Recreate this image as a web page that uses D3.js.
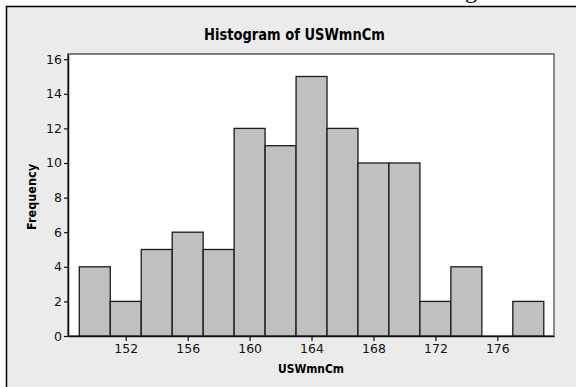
<!DOCTYPE html>
<html>
<head>
<meta charset="utf-8">
<script src="https://cdn.jsdelivr.net/npm/d3@7"></script>
<style>
  body { margin: 0; background: #fff; }
  svg { display: block; }
</style>
</head>
<body>
<svg id="chart" width="576" height="387"></svg>
<script>
// bin midpoints (cm) and counts
var binMids = [150, 152, 154, 156, 158, 160, 162, 164, 166, 168, 170, 172, 174, 176, 178];
var counts = [4, 2, 5, 6, 5, 12, 11, 15, 12, 10, 10, 2, 4, 0, 2];
var binWidth = 2;
var xTicks = [152, 156, 160, 164, 168, 172, 176];
var yTicks = [0, 2, 4, 6, 8, 10, 12, 14, 16];

var svg = d3.select("#chart");
var plotL = 68, plotR = 554, plotT = 54, plotB = 336;

var x = d3.scaleLinear().domain([148.27, 179.66]).range([plotL, plotR]);
var y = d3.scaleLinear().domain([0, 16.3]).range([plotB, plotT]);

// outer graph panel, runs off the right and bottom edges
svg.append("rect")
    .attr("x", 6.5).attr("y", 6.5)
    .attr("width", 600).attr("height", 400)
    .style("fill", "#ebebeb").style("stroke", "#000").style("stroke-width", 1.5);

// cut-off text above the panel
svg.append("text")
    .attr("x", 413).attr("y", -2)
    .style("font-family", "Liberation Serif")
    .style("font-size", "24px")
    .text("Histogram");

// plot area
svg.append("rect")
    .attr("x", plotL).attr("y", plotT)
    .attr("width", plotR - plotL).attr("height", plotB - plotT)
    .style("fill", "#fff").style("stroke", "#555").style("stroke-width", 1.5);
svg.append("line")
    .attr("x1", plotR).attr("x2", plotR).attr("y1", plotT).attr("y2", plotB)
    .style("stroke", "#8a8a8a").style("stroke-width", 2);

svg.selectAll("rect.bar")
    .data(binMids.map((m, i) => ({m: m, c: counts[i]})))
    .enter().append("rect")
    .attr("class", "bar")
    .attr("x", (d) => x(d.m - binWidth / 2))
    .attr("width", (d) => x(d.m + binWidth / 2) - x(d.m - binWidth / 2))
    .attr("y", (d) => y(d.c))
    .attr("height", (d) => y(0) - y(d.c))
    .style("fill", "#c0c0c0").style("stroke", "#1a1a1a").style("stroke-width", 1.3);

var xAxis = svg.append("g")
    .attr("transform", "translate(0," + plotB + ")")
    .call(d3.axisBottom(x).tickValues(xTicks).tickSize(5).tickPadding(3).tickSizeOuter(0));
var yAxis = svg.append("g")
    .attr("transform", "translate(" + plotL + ",0)")
    .call(d3.axisLeft(y).tickValues(yTicks).tickSize(4).tickPadding(2).tickSizeOuter(0));

[xAxis, yAxis].forEach((g) => {
    g.select(".domain").style("stroke", "#111").style("stroke-width", 1.5);
    g.selectAll(".tick line").style("stroke", "#111").style("stroke-width", 1.2);
    g.selectAll("text")
        .style("font-family", "DejaVu Sans")
        .style("font-size", "12.5px")
        .style("fill", "#111");
});

svg.append("text")
    .attr("x", 294.5).attr("y", 40)
    .attr("text-anchor", "middle")
    .attr("textLength", 181).attr("lengthAdjust", "spacingAndGlyphs")
    .style("font-family", "DejaVu Sans").style("font-weight", "bold")
    .style("font-size", "15.5px")
    .text("Histogram of USWmnCm");

svg.append("text")
    .attr("x", 311).attr("y", 373)
    .attr("text-anchor", "middle")
    .attr("textLength", 66).attr("lengthAdjust", "spacingAndGlyphs")
    .style("font-family", "DejaVu Sans").style("font-weight", "bold")
    .style("font-size", "12.5px")
    .text("USWmnCm");

svg.append("text")
    .attr("transform", "translate(36,197) rotate(-90)")
    .attr("text-anchor", "middle")
    .attr("textLength", 66).attr("lengthAdjust", "spacingAndGlyphs")
    .style("font-family", "DejaVu Sans").style("font-weight", "bold")
    .style("font-size", "12.5px")
    .text("Frequency");
</script>
</body>
</html>
